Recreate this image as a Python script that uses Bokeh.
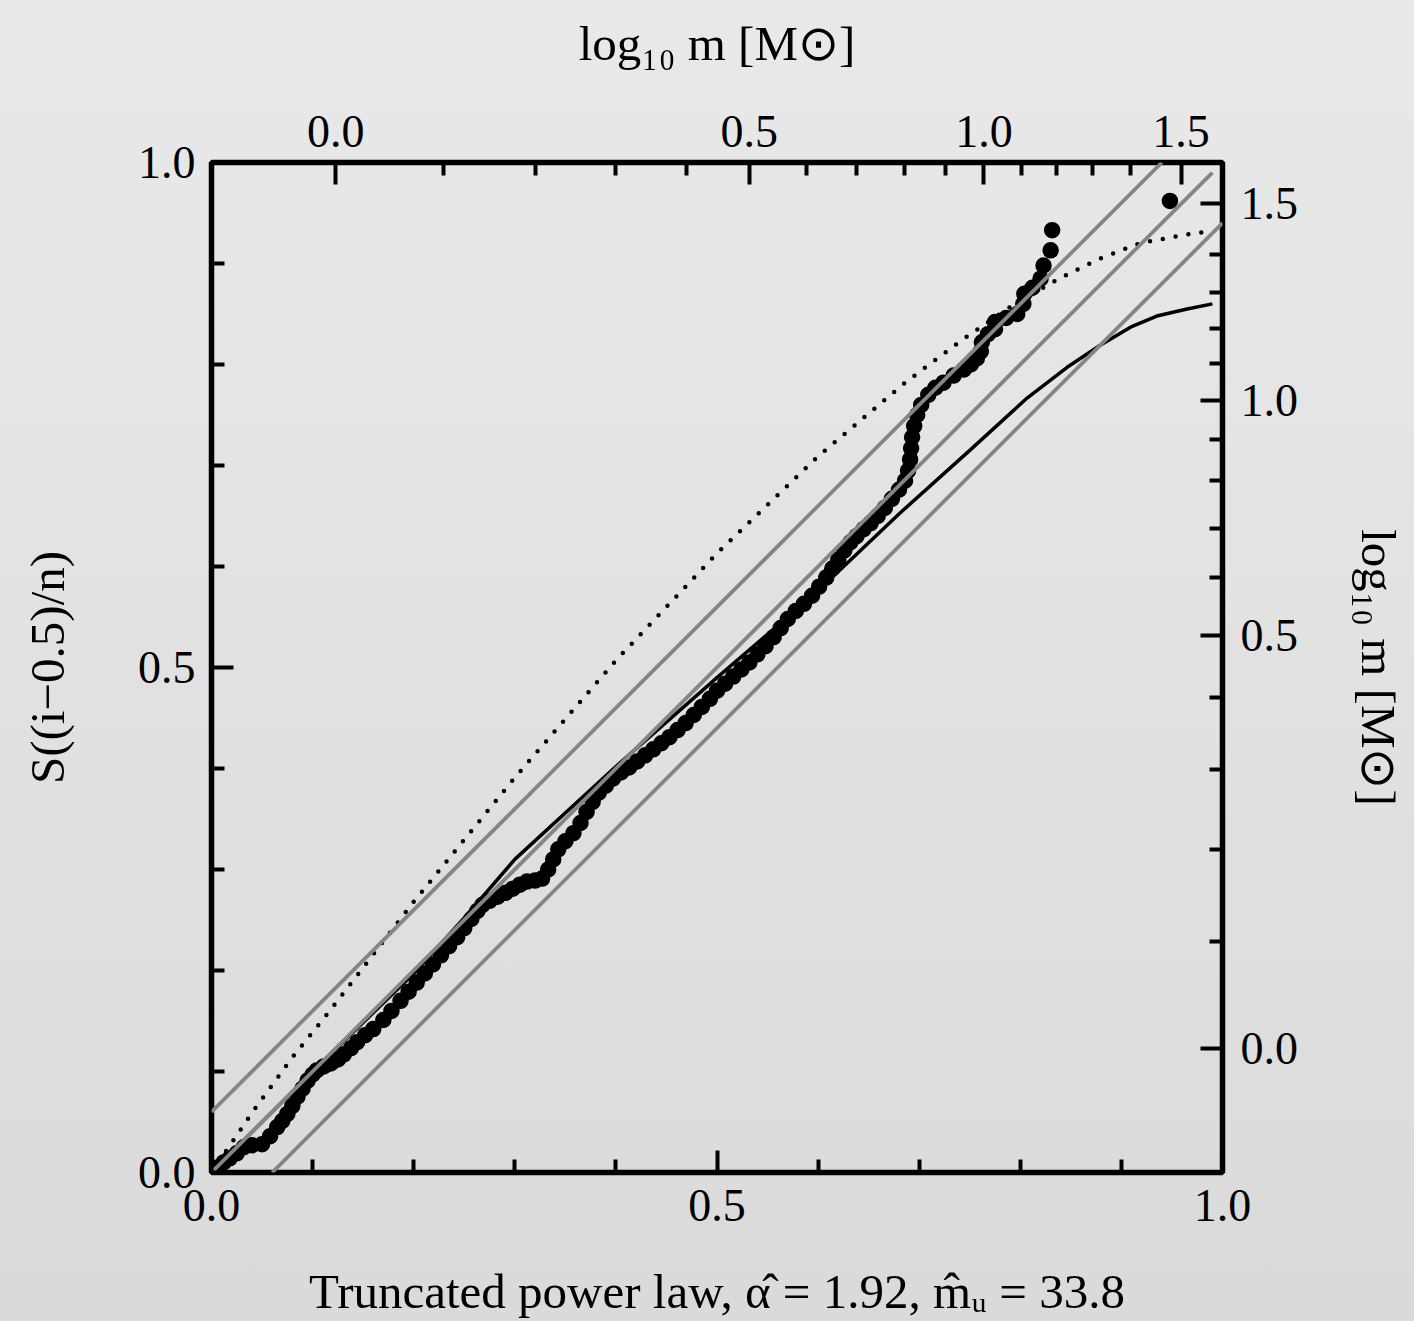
from bokeh.plotting import figure
from bokeh.models import Range1d, LinearAxis, FixedTicker, PrintfTickFormatter
from bokeh.embed import file_html
from bokeh.resources import INLINE

# ---- data ----
qq_x = [0.000, 0.006, 0.012, 0.018, 0.025, 0.032, 0.040, 0.050, 0.058, 0.065,
        0.070, 0.075, 0.080, 0.085, 0.090, 0.095, 0.100, 0.104, 0.111, 0.118,
        0.125, 0.131, 0.138, 0.144, 0.152, 0.160, 0.170, 0.178, 0.187, 0.195,
        0.203, 0.211, 0.219, 0.227, 0.235, 0.243, 0.250, 0.257, 0.263, 0.268,
        0.275, 0.283, 0.291, 0.298, 0.305, 0.312, 0.320, 0.327, 0.333, 0.338,
        0.343, 0.350, 0.358, 0.365, 0.371, 0.377, 0.383, 0.390, 0.397, 0.405,
        0.413, 0.421, 0.429, 0.437, 0.445, 0.453, 0.461, 0.469, 0.477, 0.485,
        0.493, 0.500, 0.508, 0.516, 0.524, 0.532, 0.540, 0.548, 0.556, 0.563,
        0.570, 0.578, 0.586, 0.594, 0.601, 0.608, 0.614, 0.620, 0.626, 0.632,
        0.638, 0.645, 0.652, 0.659, 0.666, 0.673, 0.680, 0.686, 0.689, 0.691,
        0.692, 0.693, 0.695, 0.698, 0.702, 0.709, 0.716, 0.724, 0.734, 0.744,
        0.751, 0.757, 0.761, 0.762, 0.768, 0.775, 0.775, 0.786, 0.797, 0.803,
        0.804, 0.812, 0.820, 0.823, 0.830, 0.8315, 0.948]
qq_y = [0.000, 0.005, 0.010, 0.014, 0.019, 0.025, 0.027, 0.028, 0.036, 0.045,
        0.051, 0.058, 0.066, 0.075, 0.083, 0.091, 0.097, 0.101, 0.105, 0.108,
        0.112, 0.117, 0.123, 0.129, 0.136, 0.142, 0.151, 0.160, 0.170, 0.179,
        0.188, 0.197, 0.206, 0.215, 0.224, 0.233, 0.242, 0.251, 0.259, 0.265,
        0.269, 0.273, 0.277, 0.281, 0.285, 0.288, 0.289, 0.291, 0.300, 0.310,
        0.320, 0.328, 0.336, 0.346, 0.357, 0.367, 0.376, 0.383, 0.390, 0.396,
        0.401, 0.407, 0.413, 0.419, 0.425, 0.431, 0.438, 0.445, 0.453, 0.461,
        0.469, 0.477, 0.484, 0.491, 0.498, 0.505, 0.513, 0.521, 0.530, 0.539,
        0.548, 0.556, 0.563, 0.571, 0.580, 0.589, 0.598, 0.607, 0.616, 0.624,
        0.630, 0.637, 0.643, 0.650, 0.658, 0.667, 0.676, 0.685, 0.695, 0.706,
        0.717, 0.728, 0.739, 0.750, 0.760, 0.770, 0.777, 0.782, 0.789, 0.795,
        0.800, 0.806, 0.813, 0.822, 0.830, 0.835, 0.842, 0.846, 0.850, 0.860,
        0.870, 0.876, 0.885, 0.898, 0.913, 0.933, 0.962]

# truncated power law fit (solid)
fit_x = [0.0, 0.1, 0.2, 0.25, 0.3, 0.4, 0.5, 0.6, 0.68, 0.75, 0.807, 0.846,
         0.879, 0.909, 0.935, 0.965, 0.99]
fit_y = [0.0, 0.10, 0.197, 0.252, 0.310, 0.402, 0.490, 0.576, 0.652, 0.715,
         0.767, 0.797, 0.819, 0.837, 0.848, 0.855, 0.86]

# alternative model (dotted)
alt_x = [0.0, 0.04, 0.08, 0.117, 0.2, 0.3, 0.4, 0.5, 0.6, 0.686, 0.742,
         0.79, 0.84, 0.879, 0.918, 0.96, 0.988]
alt_y = [0.0, 0.059, 0.114, 0.160, 0.268, 0.391, 0.507, 0.613, 0.709, 0.782,
         0.824, 0.857, 0.886, 0.905, 0.920, 0.928, 0.932]

band_offset = 0.06

s_major = [0.0, 0.5, 1.0]
s_minor = [0.1, 0.2, 0.3, 0.4, 0.6, 0.7, 0.8, 0.9]

logm_labels = ["0.0", "0.5", "1.0", "1.5"]
logm_major_pos = [0.123, 0.532, 0.764, 0.959]
logm_minor_pos = [0.229, 0.320, 0.3995, 0.470, 0.589, 0.638, 0.685, 0.726,
                  0.801, 0.836, 0.871, 0.909]

FONT = "Liberation Serif"
FS = "46px"
TFS = "49px"

p = figure(width=1414, height=1321, x_range=Range1d(0, 1), y_range=Range1d(0, 1),
           output_backend="svg", toolbar_location=None,
           x_axis_location=None, y_axis_location=None,
           min_border_left=211, min_border_right=192,
           min_border_top=162, min_border_bottom=149)
for g in p.grid:
    g.visible = False

p.background_fill_alpha = 0
p.border_fill_alpha = 0
p.styles = {"background": "linear-gradient(to bottom, #e9e9e9, #dadada)"}
p.outline_line_color = "black"
p.outline_line_width = 5.5


def style_axis(ax):
    ax.axis_line_color = None
    ax.major_tick_in = 22
    ax.major_tick_out = 0
    ax.minor_tick_in = 13
    ax.minor_tick_out = 0
    ax.major_tick_line_width = 4
    ax.minor_tick_line_width = 4
    ax.major_tick_line_color = "black"
    ax.minor_tick_line_color = "black"
    ax.major_label_text_font = FONT
    ax.major_label_text_font_size = FS
    ax.major_label_text_color = "black"
    ax.axis_label_text_font = FONT
    ax.axis_label_text_font_size = TFS
    ax.axis_label_text_font_style = "normal"
    ax.axis_label_text_color = "black"


bottom = LinearAxis(ticker=FixedTicker(ticks=s_major, minor_ticks=s_minor),
                    formatter=PrintfTickFormatter(format="%.1f"),
                    axis_label="Truncated power law, α̂ = 1.92, m̂ᵤ = 33.8")
style_axis(bottom)
bottom.major_label_standoff = 17
bottom.axis_label_standoff = 40
p.add_layout(bottom, "below")

left = LinearAxis(ticker=FixedTicker(ticks=s_major, minor_ticks=s_minor),
                  formatter=PrintfTickFormatter(format="%.1f"),
                  axis_label="S((i−0.5)/n)")
style_axis(left)
left.major_label_standoff = 16
left.axis_label_standoff = 60
p.add_layout(left, "left")

overrides = {pos: lab for pos, lab in zip(logm_major_pos, logm_labels)}

top = LinearAxis(ticker=FixedTicker(ticks=logm_major_pos, minor_ticks=logm_minor_pos),
                 axis_label="log₁₀ m [M⊙]")
style_axis(top)
top.major_label_overrides = overrides
top.major_label_standoff = 16
top.axis_label_standoff = 42
p.add_layout(top, "above")

right = LinearAxis(ticker=FixedTicker(ticks=logm_major_pos, minor_ticks=logm_minor_pos),
                   axis_label="log₁₀ m [M⊙]")
style_axis(right)
right.major_label_overrides = overrides
right.major_label_standoff = 18
right.axis_label_standoff = 50
p.add_layout(right, "right")

# curves
p.line(alt_x, alt_y, line_color="black", line_width=4.5, line_dash="0 13",
       line_cap="round")
p.line(fit_x, fit_y, line_color="black", line_width=3.5)
p.scatter(qq_x, qq_y, size=15, fill_color="black", line_color="black",
          line_width=1.5)

# reference band lines
d = band_offset
p.line([0, 1 - d], [d, 1], line_color="#858585", line_width=3.8)
p.line([0, 0.99], [0, 0.99], line_color="#858585", line_width=3.8)
p.line([d, 1], [0, 1 - d], line_color="#858585", line_width=3.8)

open("out.html", "w").write(file_html(p, INLINE))
